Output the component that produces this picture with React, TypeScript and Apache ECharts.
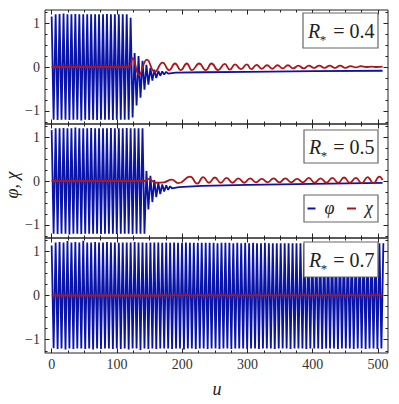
import React, { useEffect, useRef } from "react";
import * as echarts from "echarts";

// ---------- data ----------
const X_MAJOR = [0, 100, 200, 300, 400, 500];
const X_MINOR = [25, 50, 75, 125, 150, 175, 225, 250, 275, 325, 350, 375, 425, 450, 475];
const Y_MAJOR = [-1, 0, 1];
const Y_MINOR = [-1.25, -0.75, -0.5, -0.25, 0.25, 0.5, 0.75, 1.25];
const R_STAR = ["0.4", "0.5", "0.7"];
const LEGEND_NAMES = ["φ", "χ"];

// positions of the extrema of the fast oscillation of φ (u)
const U_EXT = [
  0, 3.0, 6.1, 9.1, 12.1, 15.1, 18.2, 21.2, 24.2, 27.2, 30.3, 33.3, 36.3, 39.3, 42.4, 45.4, 48.4, 51.4, 54.5, 57.5,
  60.5, 63.5, 66.6, 69.6, 72.6, 75.6, 78.7, 81.7, 84.7, 87.7, 90.8, 93.8, 96.8, 99.8, 102.9, 105.9, 108.9, 111.9, 115.0, 118.0,
  121.0, 124.0, 127.1, 130.1, 133.1, 136.1, 139.2, 142.2, 145.2, 148.2, 151.3, 154.3, 157.3, 160.3, 163.4, 166.4, 169.4, 172.4, 175.5, 178.5,
  181.5, 184.5, 187.6, 190.6, 193.6, 196.6, 199.7, 202.7, 205.7, 208.7, 211.8, 214.8, 217.8, 220.8, 223.9, 226.9, 229.9, 232.9, 236.0, 239.0,
  242.0, 245.0, 248.1, 251.1, 254.1, 257.1, 260.2, 263.2, 266.2, 269.2, 272.3, 275.3, 278.3, 281.3, 284.4, 287.4, 290.4, 293.4, 296.5, 299.5,
  302.5, 305.5, 308.6, 311.6, 314.6, 317.6, 320.7, 323.7, 326.7, 329.7, 332.8, 335.8, 338.8, 341.8, 344.9, 347.9, 350.9, 353.9, 357.0, 360.0,
  363.0, 366.0, 369.1, 372.1, 375.1, 378.1, 381.2, 384.2, 387.2, 390.2, 393.3, 396.3, 399.3, 402.3, 405.4, 408.4, 411.4, 414.4, 417.5, 420.5,
  423.5, 426.5, 429.6, 432.6, 435.6, 438.6, 441.7, 444.7, 447.7, 450.7, 453.8, 456.8, 459.8, 462.8, 465.9, 468.9, 471.9, 474.9, 478.0, 481.0,
  484.0, 487.0, 490.1, 493.1, 496.1, 499.1, 502.2, 505.2, 508.2,
];

// R* = 0.4
const PHI1_FULL = [
  1.15, -1.2, 1.2, -1.21, 1.21, -1.2, 1.22, -1.2, 1.2, -1.21,
  1.2, -1.2, 1.21, -1.2, 1.2, -1.22, 1.2, -1.2, 1.2, -1.21,
  1.2, -1.2, 1.2, -1.21, 1.2, -1.2, 1.2, -1.2, 1.21, -1.2,
  1.2, -1.21, 1.2, -1.2, 1.2, -1.2, 1.2, -1.2, 1.2, -1.2,
];
const PHI1_DECAY = [1.12, -1.15, 0.32, -0.88, 0.25, -0.7, 0.14, -0.52, 0.05, -0.4, -0.02, -0.31, -0.06, -0.25, -0.09, -0.2, -0.1, -0.17, -0.11, -0.15];
const PHI1_TAIL = [[190, -0.13], [230, -0.12], [300, -0.11], [400, -0.095], [507, -0.085]];
const CHI1 = [
  [0, 0], [118, 0], [124, 0.2], [134, -0.18], [146, 0.17], [158, -0.11], [170, 0.1], [180, -0.07], [189, 0.08], [198, -0.07],
  [207, 0.08], [215, -0.07], [226, 0.08], [236, -0.07], [245, 0.08], [255, -0.07], [265, 0.07], [273, -0.06], [281, 0.06], [290, -0.05],
  [299, 0.06], [306, -0.05], [314, 0.05], [322, -0.04], [330, 0.04], [338, -0.04], [346, 0.04], [354, -0.03], [362, 0.04], [370, -0.03],
  [378, 0.03], [386, -0.03], [394, 0.03], [402, -0.02], [410, 0.03], [418, -0.02], [426, 0.03], [434, -0.02], [442, 0.03], [450, -0.02],
  [458, 0.02], [466, -0.01], [474, 0.02], [482, 0], [490, 0.01], [498, 0], [507, 0.01],
];

// R* = 0.5
const PHI2_FULL = [
  1.16, -1.2, 1.2, -1.21, 1.2, -1.2, 1.21, -1.2, 1.2, -1.22,
  1.2, -1.2, 1.22, -1.2, 1.2, -1.21, 1.2, -1.2, 1.2, -1.2,
  1.21, -1.2, 1.2, -1.2, 1.2, -1.21, 1.2, -1.2, 1.2, -1.2,
  1.21, -1.2, 1.2, -1.21, 1.2, -1.2, 1.2, -1.2, 1.21, -1.2,
  1.2, -1.21, 1.2, -1.2, 1.2, -1.2, 1.2, -1.2,
];
const PHI2_DECAY = [0.23, -0.65, 0.12, -0.48, 0.02, -0.37, -0.04, -0.3, -0.08, -0.24, -0.1, -0.2, -0.12, -0.17];
const PHI2_TAIL = [[195, -0.14], [230, -0.11], [300, -0.09], [400, -0.065], [507, -0.045]];
const CHI2 = [
  [0, 0], [143, 0], [149, 0.05], [155, -0.01], [162, -0.04], [172, -0.03], [184, 0.03], [194, -0.05], [212, 0.1], [223, -0.06],
  [232, 0.09], [241, -0.04], [250, 0.08], [259, -0.04], [268, 0.07], [277, -0.04], [286, 0.06], [295, -0.04], [304, 0.06], [313, -0.03],
  [322, 0.05], [331, -0.03], [340, 0.06], [349, -0.03], [358, 0.06], [367, -0.03], [376, 0.05], [385, -0.03], [394, 0.07], [403, -0.04],
  [412, 0.06], [421, -0.04], [430, 0.07], [439, -0.04], [448, 0.08], [457, -0.04], [466, 0.07], [475, -0.05], [484, 0.09], [493, -0.05],
  [502, 0.1], [507, 0.02],
];

// R* = 0.7
const PHI3_FULL = [
  1.13, -1.19, 1.2, -1.21, 1.21, -1.2, 1.2, -1.22, 1.23, -1.2,
  1.2, -1.21, 1.21, -1.2, 1.2, -1.2, 1.24, -1.21, 1.2, -1.2,
  1.2, -1.22, 1.21, -1.2, 1.2, -1.21, 1.2, -1.2, 1.21, -1.2,
  1.2, -1.21, 1.2, -1.2, 1.19, -1.21, 1.2, -1.2, 1.2, -1.22,
  1.2, -1.2, 1.21, -1.2, 1.2, -1.23, 1.2, -1.2, 1.19, -1.21,
  1.2, -1.2, 1.2, -1.21, 1.2, -1.2, 1.19, -1.2, 1.2, -1.2,
  1.19, -1.21, 1.2, -1.2, 1.19, -1.2, 1.19, -1.22, 1.2, -1.2,
  1.19, -1.2, 1.19, -1.21, 1.19, -1.2, 1.19, -1.2, 1.19, -1.21,
  1.19, -1.2, 1.19, -1.2, 1.18, -1.21, 1.19, -1.2, 1.19, -1.2,
  1.19, -1.21, 1.18, -1.2, 1.19, -1.2, 1.18, -1.2, 1.19, -1.21,
  1.18, -1.2, 1.19, -1.2, 1.18, -1.21, 1.18, -1.2, 1.19, -1.2,
  1.18, -1.2, 1.18, -1.21, 1.18, -1.2, 1.18, -1.2, 1.18, -1.2,
  1.18, -1.21, 1.18, -1.2, 1.18, -1.2, 1.18, -1.2, 1.18, -1.21,
  1.18, -1.2, 1.18, -1.2, 1.18, -1.2, 1.18, -1.21, 1.18, -1.2,
  1.18, -1.2, 1.18, -1.2, 1.18, -1.21, 1.18, -1.2, 1.18, -1.2,
  1.18, -1.2, 1.18, -1.21, 1.18, -1.2, 1.18, -1.2, 1.18, -1.21,
  1.18, -1.2, 1.18, -1.2, 1.18, -1.21, 1.18, -1.2, 1.18,
];
const CHI3 = [
  [0, 0], [165, 0], [172, 0.01], [180, -0.005], [189, 0.012], [198, -0.005], [207, 0.012], [216, -0.005], [225, 0.01], [234, -0.005],
  [243, 0.012], [252, -0.005], [261, 0.01], [270, -0.005], [279, 0.012], [288, -0.005], [297, 0.01], [306, -0.005], [315, 0.012], [324, -0.005],
  [333, 0.01], [342, -0.005], [351, 0.012], [360, -0.005], [369, 0.01], [378, -0.005], [387, 0.012], [396, -0.005], [405, 0.01], [414, -0.005],
  [423, 0.012], [432, -0.005], [441, 0.01], [450, -0.005], [459, 0.012], [468, -0.005], [477, 0.01], [486, -0.005], [495, 0.012], [507, 0],
];

// ---------- layout / style ----------
const X_MIN = -10.2;
const X_MAX = 515.3;
const Y_MIN = -1.3;
const Y_MAX = 1.3;
const GRID_LEFT = 45;
const GRID_WIDTH = 343;
const PANEL_TOPS = [10, 124, 238];
const PANEL_HEIGHTS = [114, 114, 115];
const BOXES = [
  [303, 13, 75, 35],
  [304, 130, 74, 33],
  [304, 242, 74, 35],
];
const BLUE = "#0a14a8";
const RED = "#b01418";
const INK = "#222";
const SERIF = "'Liberation Serif', 'DejaVu Serif', serif";

function pairs(us: number[], vs: number[], offset: number): number[][] {
  return vs.map((v, i) => [us[offset + i], v]);
}

function buildOption() {
  const phiData = [
    [...pairs(U_EXT, PHI1_FULL, 0), ...pairs(U_EXT, PHI1_DECAY, PHI1_FULL.length), ...PHI1_TAIL],
    [...pairs(U_EXT, PHI2_FULL, 0), ...pairs(U_EXT, PHI2_DECAY, PHI2_FULL.length), ...PHI2_TAIL],
    pairs(U_EXT, PHI3_FULL, 0),
  ];
  const chiData = [CHI1, CHI2, CHI3];

  const grids: any[] = [];
  const xAxes: any[] = [];
  const yAxes: any[] = [];
  const series: any[] = [];

  PANEL_TOPS.forEach((top, gi) => {
    grids.push({
      left: GRID_LEFT,
      width: GRID_WIDTH,
      top,
      height: PANEL_HEIGHTS[gi],
      show: true,
      borderColor: INK,
      borderWidth: 1,
      backgroundColor: "transparent",
      containLabel: false,
      outerBoundsMode: "none",
    });
    const xBase = xAxes.length;
    (["bottom", "top"] as const).forEach((pos) => {
      (["major", "minor"] as const).forEach((kind) => {
        xAxes.push({
          type: "value",
          gridIndex: gi,
          position: pos,
          min: X_MIN,
          max: X_MAX,
          axisLine: { show: false, onZero: false },
          splitLine: { show: false },
          axisTick: {
            show: true,
            inside: true,
            length: kind === "major" ? 4.5 : 2.5,
            customValues: kind === "major" ? X_MAJOR : X_MINOR,
            lineStyle: { color: INK, width: 1 },
          },
          axisLabel: {
            show: gi === 2 && pos === "bottom" && kind === "major",
            customValues: X_MAJOR,
            margin: 4,
            fontFamily: SERIF,
            fontSize: 14,
            color: "#333",
          },
        });
      });
    });
    const yBase = yAxes.length;
    (["left", "right"] as const).forEach((pos) => {
      (["major", "minor"] as const).forEach((kind) => {
        yAxes.push({
          type: "value",
          gridIndex: gi,
          position: pos,
          min: Y_MIN,
          max: Y_MAX,
          axisLine: { show: false, onZero: false },
          splitLine: { show: false },
          axisTick: {
            show: true,
            inside: true,
            length: kind === "major" ? 4.5 : 2.5,
            customValues: kind === "major" ? Y_MAJOR : Y_MINOR,
            lineStyle: { color: INK, width: 1 },
          },
          axisLabel: {
            show: pos === "left" && kind === "major",
            customValues: Y_MAJOR,
            margin: 5,
            fontFamily: SERIF,
            fontSize: 14,
            color: "#333",
            formatter: (v: number) => (v < 0 ? "\u2212" + Math.abs(v) : String(v)),
          },
        });
      });
    });
    series.push({
      type: "line",
      name: LEGEND_NAMES[0],
      xAxisIndex: xBase,
      yAxisIndex: yBase,
      data: phiData[gi],
      symbol: "none",
      showSymbol: false,
      lineStyle: { color: BLUE, width: 1.8 },
      itemStyle: { color: BLUE },
      clip: true,
      z: 2,
    });
    series.push({
      type: "line",
      name: LEGEND_NAMES[1],
      xAxisIndex: xBase,
      yAxisIndex: yBase,
      data: chiData[gi],
      symbol: "none",
      showSymbol: false,
      smooth: 0.5,
      lineStyle: { color: RED, width: 1.8 },
      itemStyle: { color: RED },
      clip: true,
      z: 3,
    });
  });

  const graphics: any[] = [];
  BOXES.forEach(([bx, by, bw, bh], i) => {
    const cy = by + bh / 2;
    graphics.push(
      { type: "rect", z: 100, shape: { x: bx, y: by, width: bw, height: bh }, style: { fill: "#fff", stroke: "#666", lineWidth: 1.2 } },
      { type: "text", z: 101, x: bx + 5, y: cy, style: { text: "R", font: `italic 20px ${SERIF}`, fill: INK, align: "left", verticalAlign: "middle" } },
      { type: "text", z: 101, x: bx + 20, y: cy + 9, style: { text: "*", font: `13px ${SERIF}`, fill: INK, align: "center", verticalAlign: "middle" } },
      { type: "text", z: 101, x: bx + bw - 3.5, y: cy, style: { text: "= " + R_STAR[i], font: `20px ${SERIF}`, fill: INK, align: "right", verticalAlign: "middle" } },
    );
  });
  // legend box in the middle panel
  graphics.push(
    { type: "rect", z: 100, shape: { x: 304, y: 195, width: 74, height: 27 }, style: { fill: "#fff", stroke: "#666", lineWidth: 1.2 } },
    { type: "line", z: 101, shape: { x1: 307.5, y1: 208.5, x2: 315.5, y2: 208.5 }, style: { stroke: BLUE, lineWidth: 2 } },
    { type: "text", z: 101, x: 329.5, y: 208, style: { text: LEGEND_NAMES[0], font: `italic 18px ${SERIF}`, fill: INK, align: "center", verticalAlign: "middle" } },
    { type: "line", z: 101, shape: { x1: 347, y1: 208.5, x2: 356, y2: 208.5 }, style: { stroke: RED, lineWidth: 2 } },
    { type: "text", z: 101, x: 369, y: 208, style: { text: LEGEND_NAMES[1], font: `italic 18px ${SERIF}`, fill: INK, align: "center", verticalAlign: "middle" } },
    { type: "text", z: 101, x: 217, y: 389, style: { text: "u", font: `italic 18px ${SERIF}`, fill: INK, align: "center", verticalAlign: "middle" } },
    { type: "text", z: 101, x: 12, y: 185, rotation: Math.PI / 2, style: { text: "φ, χ", font: `italic 18px ${SERIF}`, fill: INK, align: "center", verticalAlign: "middle" } },
  );

  return {
    animation: false,
    backgroundColor: "#fff",
    grid: grids,
    xAxis: xAxes,
    yAxis: yAxes,
    series,
    graphic: graphics,
  };
}

export default function App() {
  const ref = useRef<HTMLDivElement>(null);
  useEffect(() => {
    if (!ref.current) return;
    const chart = echarts.init(ref.current, null, { renderer: "svg" });
    chart.setOption(buildOption() as any);
    return () => chart.dispose();
  }, []);
  return (
    <div
      ref={ref}
      style={{ position: "fixed", left: 0, top: 0, width: 399, height: 404, background: "#fff" }}
    />
  );
}
